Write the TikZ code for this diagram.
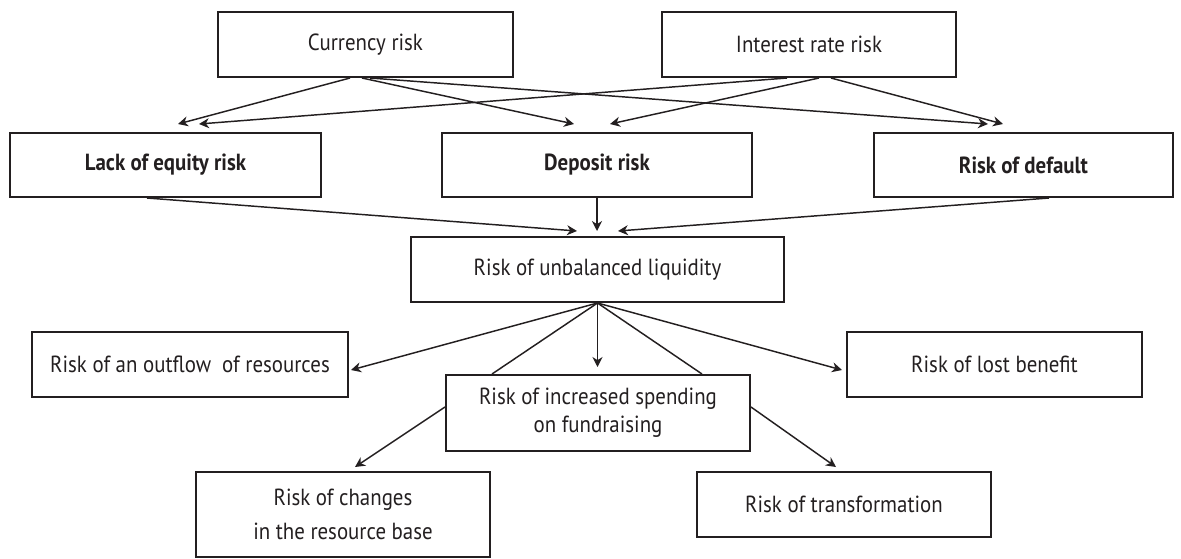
\documentclass[tikz,border=0pt]{standalone}
\usepackage{fontspec}
\setmainfont[FakeStretch=0.895]{PT Sans}
\usetikzlibrary{arrows.meta,calc}
\definecolor{ink}{HTML}{231F20}
\tikzset{
  box/.style={draw=ink,line width=1.5pt,rectangle,inner sep=0pt,text=ink,
    font=\fontsize{17.5}{21}\selectfont,align=center},
  arr/.style={draw=ink,line width=1.1pt,-{Stealth[length=7.5pt,width=7.5pt,inset=2.4pt]}},
  ln/.style={draw=ink,line width=1.1pt},
}
\begin{document}
\begin{tikzpicture}[x=0.75pt,y=-0.75pt]
\useasboundingbox (0,0) rectangle (1181,558);
\node[box,minimum width=295*0.75pt,minimum height=65*0.75pt] (cur) at (365.5,44.5) {Currency risk};
\node[box,minimum width=294*0.75pt,minimum height=65*0.75pt] (int) at (809,44.5) {Interest rate risk};
\node[box,minimum width=311*0.75pt,minimum height=64*0.75pt] (lack) at (165.5,165) {\bfseries Lack of equity risk};
\node[box,minimum width=310*0.75pt,minimum height=64*0.75pt] (dep) at (597,165) {\bfseries Deposit risk};
\node[box,minimum width=299*0.75pt,minimum height=64*0.75pt] (def) at (1023.5,165) {\bfseries Risk of default};
\node[box,minimum width=373*0.75pt,minimum height=65*0.75pt] (unb) at (597.5,269.5) {Risk of unbalanced liquidity};
\node[box,minimum width=316*0.75pt,minimum height=65*0.75pt] (out) at (190,364.5) {Risk of an outflow~~of resources};
\node[box,minimum width=295*0.75pt,minimum height=65*0.75pt] (lost) at (994.5,364.5) {Risk of lost benefit};
\node[box,minimum width=304*0.75pt,minimum height=76*0.75pt] (inc) at (598,413) {Risk of increased spending\\on fundraising};
\node[box,minimum width=294*0.75pt,minimum height=85*0.75pt,font=\fontsize{17.5}{26}\selectfont] (chg) at (343,514.5) {Risk of changes\\in the resource base};
\node[box,minimum width=294*0.75pt,minimum height=65*0.75pt] (trf) at (844,504.5) {Risk of transformation};

% top level arrows
\draw[arr] ($(cur.south)+(-15.5,0)$) -- ($(lack.north)+(12.5,-8)$);
\draw[arr] ($(cur.south)+(-3.5,0)$) -- ($(dep.north)+(-23,-8)$);
\draw[arr] ($(cur.south)+(4.5,0)$) -- ($(def.north)+(-35.5,-8)$);
\draw[arr] ($(int.south)+(-22,0)$) -- ($(lack.north)+(33.5,-8)$);
\draw[arr] ($(int.south)+(10,0)$) -- ($(dep.north)+(13,-8)$);
\draw[arr] ($(int.south)+(22,0)$) -- ($(def.north)+(-20.5,-8)$);
% into unbalanced liquidity
\draw[arr] ($(lack.south)+(-18.5,0)$) -- ($(unb.north)+(-20.5,-5)$);
\draw[arr] (dep.south) -- ($(unb.north)+(-0.5,-5)$);
\draw[arr] ($(def.south)+(25.5,0)$) -- ($(unb.north)+(20.5,-5)$);
% fan out
\draw[arr] (unb.south) -- ($(out.east)+(2,5.5)$);
\draw[arr] (unb.south) -- ($(lost.west)+(-4,5.5)$);
\draw[arr] (unb.south) -- ($(inc.north)+(-0.5,-7)$);
\draw[ln] (unb.south) -- ($(inc.north)+(-106,0)$);
\draw[ln] (unb.south) -- ($(inc.north)+(104,0)$);
% from increased spending
\draw[arr] ($(inc.west)+(0,-6)$) -- ($(chg.north)+(12,-4)$);
\draw[arr] ($(inc.east)+(0,-6)$) -- ($(trf.north)+(-8,-4)$);
\end{tikzpicture}
\end{document}
